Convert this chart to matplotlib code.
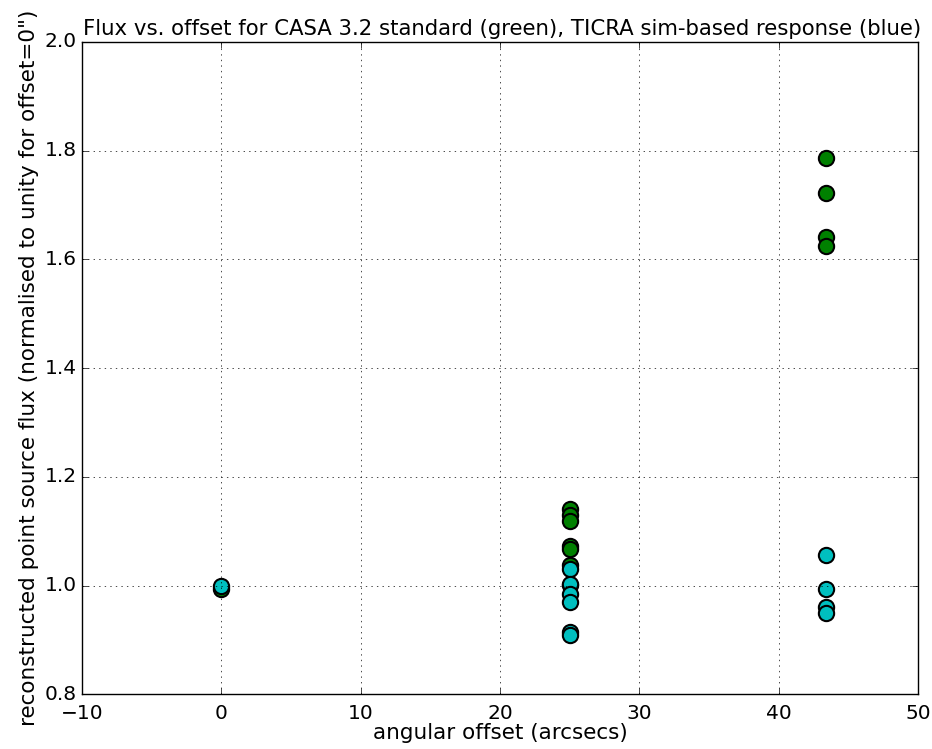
import numpy as np
import matplotlib
matplotlib.use('Agg')
import matplotlib.pyplot as plt

plt.style.use('classic')

# offsets (arcsec) and normalised fluxes
casa_offset = [0.0, 25.0, 25.0, 25.0, 25.0, 25.0, 25.0, 25.0,
               43.4, 43.4, 43.4, 43.4]
casa_flux = [0.994, 1.140, 1.130, 1.118, 1.073, 1.068, 1.038, 1.002,
             1.786, 1.723, 1.641, 1.625]

ticra_offset = [0.0, 25.0, 25.0, 25.0, 25.0, 25.0, 25.0,
                43.4, 43.4, 43.4, 43.4]
ticra_flux = [0.999, 1.031, 1.003, 0.985, 0.970, 0.915, 0.910,
              1.056, 0.993, 0.961, 0.949]

fig = plt.figure(figsize=(9.32, 7.49), dpi=100, facecolor='white')
ax = fig.add_axes([0.088, 0.073, 0.897, 0.871])

ax.plot(casa_offset, casa_flux, 'o', color=(0, 0.5, 0), markersize=11,
        markeredgecolor='black', markeredgewidth=1.5)
ax.plot(ticra_offset, ticra_flux, 'o', color=(0, 0.75, 0.75), markersize=11,
        markeredgecolor='black', markeredgewidth=1.5)

ax.set_xlim(-10, 50)
ax.set_ylim(0.8, 2.0)
ax.set_xticks(np.arange(-10, 51, 10))
ax.set_yticks(np.arange(0.8, 2.01, 0.2))
ax.grid(True, color='black', linestyle=':')
ax.tick_params(labelsize=14.5)
ax.tick_params(axis='x', pad=7)

ax.set_xlabel('angular offset (arcsecs)', fontsize=15.5, labelpad=0)
ax.set_ylabel('reconstructed point source flux (normalised to unity for offset=0")',
              fontsize=15.5, labelpad=4)
ax.set_title('Flux vs. offset for CASA 3.2 standard (green), TICRA sim-based response (blue)',
             fontsize=15.3, x=0.503)

plt.savefig('out.png', dpi=100, facecolor='white')
